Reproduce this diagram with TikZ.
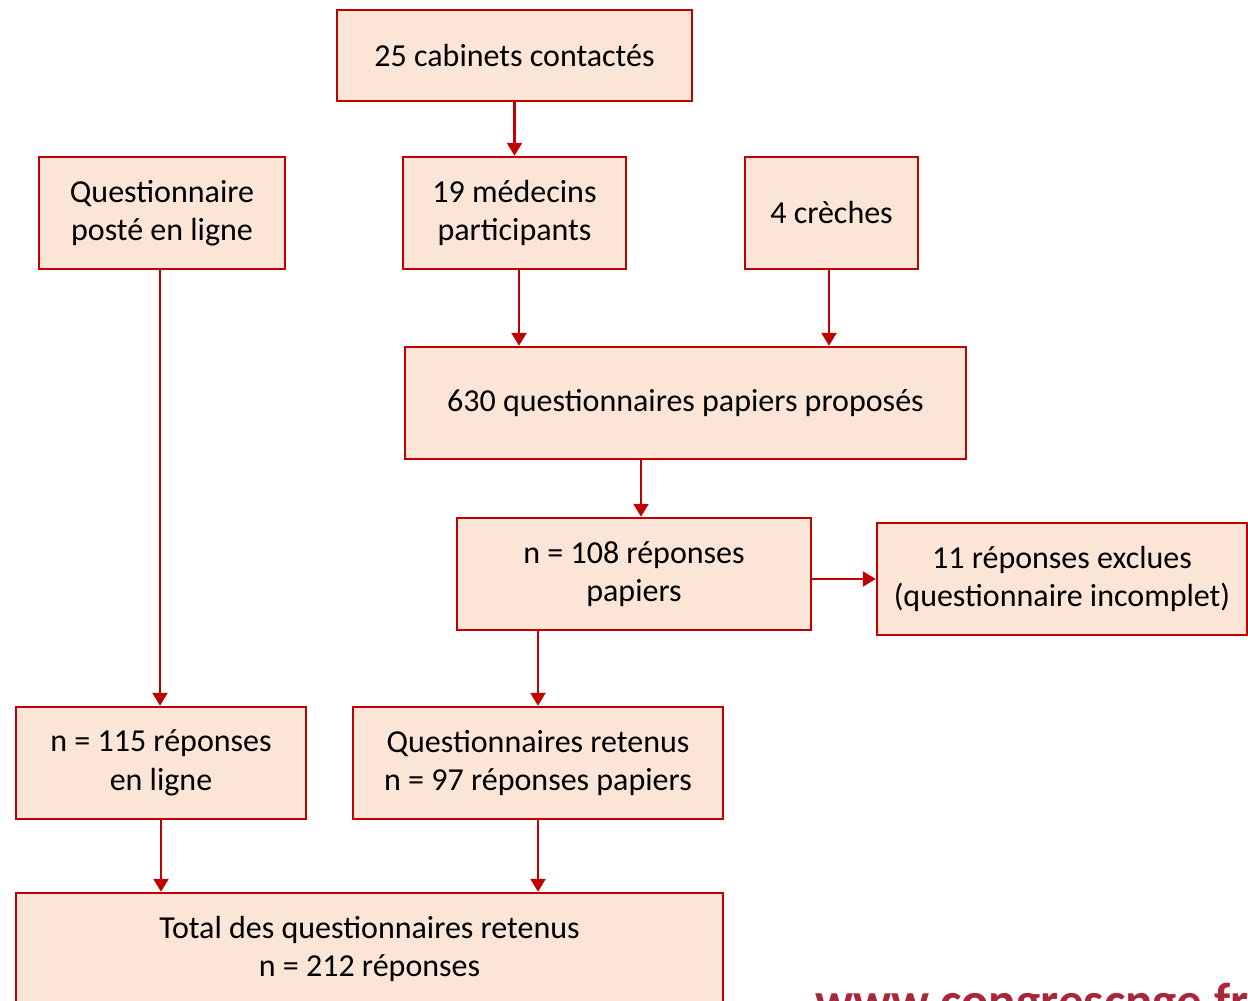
\documentclass[tikz,border=0pt]{standalone}
\usepackage{fontspec}
\setmainfont{Carlito}
\usetikzlibrary{arrows.meta}
\definecolor{bred}{HTML}{C00000}
\definecolor{peach}{HTML}{FBE5D6}
\definecolor{wmark}{HTML}{A8283A}
\begin{document}
\begin{tikzpicture}[x=1pt,y=-1pt,
  box/.style={draw=bred, fill=peach, line width=2.5pt, inner sep=0pt, align=center,
    font=\fontsize{32}{38.5}\selectfont},
  arr/.style={draw=bred, line width=2.5pt, -{Triangle[length=13pt,width=15pt]}}]
\useasboundingbox (0,0) rectangle (1248,1001);
\clip (0,0) rectangle (1248,1001);
\node[box, minimum width=355pt, minimum height=91pt] (A) at (514.5,55.5) {25 cabinets contactés};
\node[box, minimum width=246pt, minimum height=112pt] (B) at (162,213) {Questionnaire\\posté en ligne};
\node[box, minimum width=223pt, minimum height=112pt] (C) at (514.5,213) {19 médecins\\participants};
\node[box, minimum width=173pt, minimum height=112pt] (D) at (831.5,213) {4 crèches};
\node[box, minimum width=561pt, minimum height=112pt] (E) at (685.5,403) {630 questionnaires papiers proposés};
\node[box, minimum width=354pt, minimum height=112pt] (F) at (634,574) {n = 108 réponses\\papiers};
\node[box, minimum width=370pt, minimum height=112pt] (G) at (1062,579) {11 réponses exclues\\(questionnaire incomplet)};
\node[box, minimum width=290pt, minimum height=112pt] (H) at (161,763) {n = 115 réponses\\en ligne};
\node[box, minimum width=370pt, minimum height=112pt] (I) at (538,763) {Questionnaires retenus\\n = 97 réponses papiers};
\node[box, minimum width=707pt, minimum height=112pt] (J) at (369.5,949) {Total des questionnaires retenus\\n = 212 réponses};
\draw[arr] (A.south) -- (A.south |- C.north);
\draw[arr] ([xshift=4.5pt]C.south) -- ([xshift=4.5pt]C.south |- E.north);
\draw[arr] ([xshift=-2.5pt]D.south) -- ([xshift=-2.5pt]D.south |- E.north);
\draw[arr] ([xshift=-2pt]B.south) -- ([xshift=-2pt]B.south |- H.north);
\draw[arr] ([xshift=7pt]F.north |- E.south) -- ([xshift=7pt]F.north);
\draw[arr] (F.east |- G.west) -- (G.west);
\draw[arr] (I.north |- F.south) -- (I.north);
\draw[arr] (H.south) -- (H.south |- J.north);
\draw[arr] (I.south) -- (I.south |- J.north);
\node[anchor=base west, inner sep=0pt, text=wmark, font=\fontsize{51}{51}\bfseries\selectfont] (W) at (815,1018) {www.congrescnge.fr};
\end{tikzpicture}
\end{document}
